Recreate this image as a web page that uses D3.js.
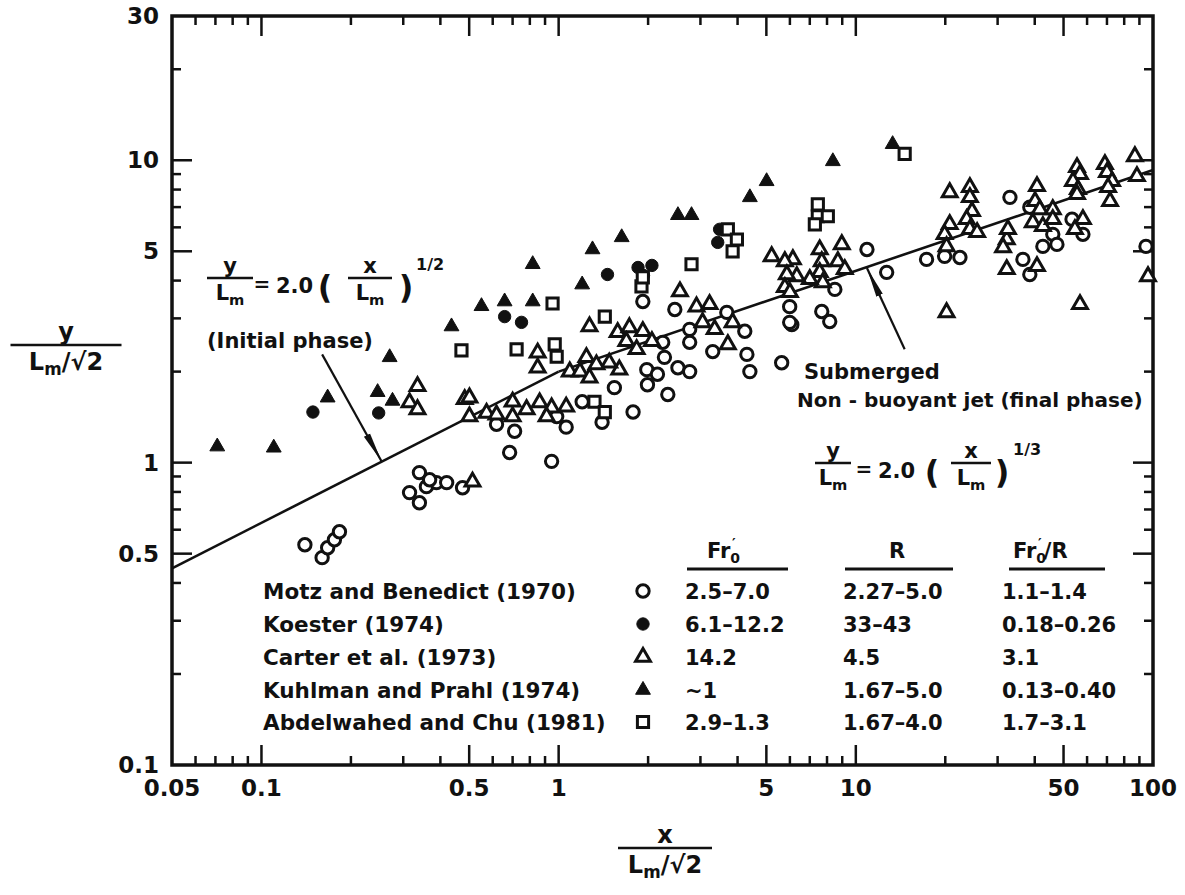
<!DOCTYPE html>
<html>
<head>
<meta charset="utf-8">
<script src="https://d3js.org/d3.v7.min.js"></script>
<style>
  body { margin: 0; background: #fff; }
  svg text { font-family: "DejaVu Sans", sans-serif; font-weight: bold; fill: #111; }
</style>
</head>
<body>
<svg id="chart" width="1185" height="895"></svg>
<script>
// ---- data (x/(Lm/sqrt2), y/(Lm/sqrt2)) ----
const motz = [
  [0.14,0.535],[0.16,0.485],[0.167,0.523],[0.176,0.556],[0.183,0.591],
  [0.315,0.796],[0.34,0.737],[0.359,0.833],[0.34,0.927],[0.388,0.859],[0.42,0.859],[0.475,0.826],[0.368,0.878],
  [1.92,3.41],[6.09,2.86],[5.63,2.14],[2.46,3.21],[2.76,2.76],[2.76,2.50],[3.68,3.14],[4.23,2.72],[3.30,2.33],
  [4.30,2.28],[4.40,2.00],[2.52,2.06],[2.76,2.00],[1.98,2.03],[2.15,1.96],[1.99,1.81],[2.33,1.68],[1.78,1.47],
  [2.24,2.50],[2.27,2.23],[1.54,1.77],[1.20,1.59],[1.40,1.36],[1.06,1.31],[0.711,1.27],[0.684,1.08],[0.947,1.01],
  [0.985,1.42],[0.618,1.34],
  [10.9,5.07],[12.7,4.26],[17.3,4.70],[19.9,4.81],[22.4,4.77],[33.0,7.54],[36.5,4.70],[38.5,4.19],[38.5,6.99],
  [46.0,5.69],[42.6,5.19],[47.5,5.27],[53.4,6.38],[58.1,5.69],[8.50,3.74],[7.68,3.16],[8.17,2.93],[94.7,5.19],
  [5.99,3.28],[5.99,2.91]
];
const koester = [
  [0.149,1.47],[0.248,1.46],[0.658,3.04],[0.75,2.91],[1.46,4.19],[1.85,4.42],[2.06,4.49],[1.93,4.16],[3.48,5.91],[3.43,5.35]
];
const carter = [
  [0.335,1.79],[0.315,1.58],[0.335,1.50],[0.483,1.62],[0.513,0.865],
  [5.21,4.81],[1.27,2.82],[2.56,3.68],[0.85,2.31],[0.85,2.06],[1.58,2.70],[1.73,2.80],[1.92,2.72],[1.69,2.52],
  [2.06,2.52],[1.83,2.37],[2.91,3.28],[3.22,3.34],[3.05,2.91],[3.35,2.76],[3.71,2.46],[3.85,2.91],[1.24,2.23],
  [1.60,2.03],[1.48,2.14],[1.34,2.11],[1.09,2.00],[1.18,2.00],[1.27,1.91],[0.70,1.59],[0.70,1.42],[0.863,1.58],
  [0.947,1.52],[1.06,1.53],[0.78,1.50],[0.911,1.42],[0.572,1.46],[0.618,1.44],[0.501,1.64],[0.501,1.42],
  [7.56,5.07],[7.68,4.63],[7.56,4.26],[8.97,5.27],[8.70,4.63],[9.18,4.36],[7.74,3.94],[7.00,4.04],[6.14,4.70],
  [6.33,4.13],[5.77,4.63],[5.86,4.19],[5.77,3.80],[6.0,3.66],
  [20.7,7.83],[24.2,8.14],[24.2,7.54],[24.6,6.78],[23.6,6.38],[24.2,5.91],[25.6,5.78],[20.7,6.14],[19.9,5.69],
  [20.2,5.19],[32.2,5.47],[32.5,5.91],[31.3,5.15],[32.2,4.36],[40.7,4.46],[40.7,8.2],[40.1,7.32],[41.6,6.88],
  [39.4,6.23],[42.6,6.05],[46.0,6.88],[46.0,6.38],[58.1,6.38],[54.6,5.91],[55.5,9.48],[56.8,8.99],[53.8,8.52],
  [55.9,8.02],[55.5,7.72],[68.9,9.70],[70.0,9.13],[72.8,8.52],[70.6,8.14],[71.7,7.32],[56.8,3.34],[20.2,3.14],
  [86.9,10.3],[88.3,8.85],[96.2,4.13]
];
const kuhlman = [
  [0.071,1.13],[0.11,1.12],[0.167,1.64],[0.27,2.23],[0.246,1.71],[0.276,1.60],[0.436,2.82],[0.55,3.29],
  [0.658,3.41],[0.818,3.41],[0.818,4.53],[1.20,3.88],[1.30,5.07],[1.63,5.56],[2.52,6.58],[2.80,6.58],
  [4.40,7.54],[5.01,8.52],[8.37,9.92],[13.3,11.3]
];
const abdelwahed = [
  [0.471,2.35],[0.954,3.36],[0.722,2.37],[0.97,2.46],[0.985,2.24],[1.43,3.04],[1.90,3.83],[1.92,4.10],
  [2.80,4.53],[3.71,5.91],[3.98,5.47],[3.85,5.00],[14.6,10.5],[7.45,7.15],[7.45,6.53],[8.05,6.53],[7.28,6.14],
  [1.32,1.59],[1.43,1.47]
];

// fitted curves shown in the figure
const initialPhase = [[0.05, 0.447], [1, 2.0]];   // y = 2.0 x^(1/2)
const finalPhase = [[1, 2.0], [100, 9.28]];       // y = 2.0 x^(1/3)
const arrowInitial = [[0.16, 2.28], [0.2535, 1.01]];
const arrowFinal = [[14.6, 2.37], [10.9, 4.4]];

// axes
const xTickVals = [0.05, 0.1, 0.5, 1, 5, 10, 50, 100];
const xTickText = ["0.05", "0.1", "0.5", "1", "5", "10", "50", "100"];
const yTickVals = [0.1, 0.5, 1, 5, 10, 30];
const yTickText = ["0.1", "0.5", "1", "5", "10", "30"];
const xMajor = [0.1, 0.5, 1, 5, 10, 50];
const yMajor = [0.5, 1, 5, 10];

// legend table
const legendNames = ["Motz and Benedict (1970)", "Koester (1974)", "Carter et al. (1973)",
                     "Kuhlman and Prahl (1974)", "Abdelwahed and Chu (1981)"];
const legendFr = ["2.5–7.0", "6.1–12.2", "14.2", "~1", "2.9–1.3"];
const legendR = ["2.27–5.0", "33–43", "4.5", "1.67–5.0", "1.67–4.0"];
const legendFrR = ["1.1–1.4", "0.18–0.26", "3.1", "0.13–0.40", "1.7–3.1"];

// ---- drawing ----
const svg = d3.select("#chart");
const x = d3.scaleLog().domain([0.05, 100]).range([172, 1153]);
const y = d3.scaleLog().domain([0.1, 30]).range([765, 16]);
const ink = "#111";

const symbols = {
  circle: d3.symbol(d3.symbolCircle, 120),
  triangle: d3.symbol(d3.symbolTriangle, 95),
  square: d3.symbol(d3.symbolSquare, 125)
};
const series = [
  { data: motz, shape: "circle", filled: false },
  { data: koester, shape: "circle", filled: true },
  { data: carter, shape: "triangle", filled: false },
  { data: kuhlman, shape: "triangle", filled: true },
  { data: abdelwahed, shape: "square", filled: false }
];

// ticks (inward on all four sides)
const tg = svg.append("g").attr("stroke", ink).attr("stroke-width", 2.5);
const [x0, x1] = x.range(), [y0, y1] = y.range();
x.ticks().filter(v => v > 0.05 && v < 100).forEach(v => {
  const len = xMajor.includes(v) ? 20 : 9;
  tg.append("line").attr("x1", x(v)).attr("x2", x(v)).attr("y1", y0).attr("y2", y0 - len);
  tg.append("line").attr("x1", x(v)).attr("x2", x(v)).attr("y1", y1).attr("y2", y1 + len);
});
y.ticks().filter(v => v > 0.1 && v < 30).forEach(v => {
  const len = yMajor.includes(v) ? 20 : 9;
  tg.append("line").attr("y1", y(v)).attr("y2", y(v)).attr("x1", x0).attr("x2", x0 + len);
  tg.append("line").attr("y1", y(v)).attr("y2", y(v)).attr("x1", x1).attr("x2", x1 - len);
});

// frame
svg.append("rect")
  .attr("x", x0).attr("y", y1).attr("width", x1 - x0).attr("height", y0 - y1)
  .attr("fill", "none").attr("stroke", ink).attr("stroke-width", 3.5);

// tick labels
svg.append("g").selectAll("text").data(xTickVals).join("text")
  .attr("x", d => x(d)).attr("y", 796).attr("text-anchor", "middle")
  .attr("font-size", 23).text((d, i) => xTickText[i]);
svg.append("g").selectAll("text").data(yTickVals).join("text")
  .attr("x", 159).attr("y", d => y(d) + 8).attr("text-anchor", "end")
  .attr("font-size", 23).text((d, i) => yTickText[i]);

// fitted lines
const line = d3.line().x(d => x(d[0])).y(d => y(d[1]));
svg.append("path").datum(initialPhase).attr("d", line)
  .attr("fill", "none").attr("stroke", ink).attr("stroke-width", 2.6);
svg.append("path").datum(finalPhase).attr("d", line)
  .attr("fill", "none").attr("stroke", ink).attr("stroke-width", 2.6);

// arrows
svg.append("defs").append("marker")
  .attr("id", "head").attr("markerUnits", "userSpaceOnUse")
  .attr("viewBox", "0 -5 30 10").attr("refX", 30).attr("refY", 0)
  .attr("markerWidth", 30).attr("markerHeight", 10).attr("orient", "auto")
  .append("path").attr("d", "M0,-3.5L30,0L0,3.5Z").attr("fill", ink);
[arrowInitial, arrowFinal].forEach(a => {
  svg.append("path").datum(a).attr("d", line)
    .attr("stroke", ink).attr("stroke-width", 2.2).attr("marker-end", "url(#head)");
});

// data markers
series.forEach(s => {
  svg.append("g").selectAll("path").data(s.data).join("path")
    .attr("transform", d => `translate(${x(d[0])},${y(d[1])})`)
    .attr("d", symbols[s.shape])
    .attr("fill", s.filled ? ink : "#fff")
    .attr("stroke", ink).attr("stroke-width", s.filled ? 1 : 3);
});

// fraction helper: numerator, bar, denominator "L_m" + optional suffix
function frac(cx, barY, w, num, suffix, fs) {
  const g = svg.append("g");
  g.append("text").attr("x", cx).attr("y", barY - 5).attr("text-anchor", "middle")
    .attr("font-size", fs).text(num);
  g.append("line").attr("x1", cx - w / 2).attr("x2", cx + w / 2).attr("y1", barY).attr("y2", barY)
    .attr("stroke", ink).attr("stroke-width", 2.5);
  const den = g.append("text").attr("x", cx).attr("y", barY + fs + 1).attr("text-anchor", "middle")
    .attr("font-size", fs);
  den.append("tspan").text("L");
  den.append("tspan").attr("font-size", fs * 0.7).attr("dy", 5).text("m");
  if (suffix) den.append("tspan").attr("dy", -5).text(suffix);
}

// equation: "y/Lm = 2.0 (x/Lm)^p"
function equation(cx1, barY, w1, eqX, numX, parL, cx2, w2, parR, expX, expText) {
  frac(cx1, barY, w1, "y", "", 21);
  svg.append("text").attr("x", eqX).attr("y", barY + 13).attr("text-anchor", "middle")
    .attr("font-size", 20).text("=");
  svg.append("text").attr("x", numX).attr("y", barY + 15).attr("font-size", 21).text("2.0");
  svg.append("text").attr("x", parL).attr("y", barY + 20).attr("text-anchor", "middle")
    .attr("font-size", 32).attr("font-weight", "normal").text("(");
  frac(cx2, barY, w2, "x", "", 21);
  svg.append("text").attr("x", parR).attr("y", barY + 20).attr("text-anchor", "middle")
    .attr("font-size", 32).attr("font-weight", "normal").text(")");
  svg.append("text").attr("x", expX).attr("y", barY - 8).attr("font-size", 16).text(expText);
}
equation(230, 278, 46, 262, 276, 325, 370, 44, 406, 416, "1/2");
svg.append("text").attr("x", 207).attr("y", 348).attr("font-size", 21).text("(Initial phase)");

svg.append("text").attr("x", 804).attr("y", 379).attr("font-size", 21).text("Submerged");
svg.append("text").attr("x", 797).attr("y", 407).attr("font-size", 20).text("Non - buoyant jet (final phase)");
equation(833, 463, 36, 864, 878, 932, 971, 40, 1002, 1013, "1/3");

// axis titles
frac(66, 345, 111, "y", "/√2", 24);
frac(665, 848, 94, "x", "/√2", 24);

// legend
const rowY = [591, 624, 657, 690, 722];
const lg = svg.append("g");
lg.selectAll("text.name").data(legendNames).join("text").attr("class", "name")
  .attr("x", 263).attr("y", (d, i) => rowY[i] + 8).attr("font-size", 21.5).text(d => d);
series.forEach((s, i) => {
  lg.append("path").attr("transform", `translate(643,${rowY[i]})`)
    .attr("d", symbols[s.shape]).attr("fill", s.filled ? ink : "#fff")
    .attr("stroke", ink).attr("stroke-width", s.filled ? 1 : 3);
});
[[legendFr, 685], [legendR, 843], [legendFrR, 1002]].forEach(([col, cx]) => {
  lg.append("g").selectAll("text").data(col).join("text")
    .attr("x", cx).attr("y", (d, i) => rowY[i] + 8).attr("font-size", 21).text(d => d);
});
// column headers with underlines
function frHead(xp, yp, tail) {
  const t = lg.append("text").attr("x", xp).attr("y", yp).attr("font-size", 21);
  t.append("tspan").text("Fr");
  t.append("tspan").attr("font-size", 14).attr("dy", 5).text("0");
  t.append("tspan").attr("font-size", 14).attr("dx", -8).attr("dy", -15).text("′");
  if (tail) t.append("tspan").attr("dy", 10).attr("dx", 2).text(tail);
}
frHead(707, 558, "");
lg.append("text").attr("x", 897).attr("y", 558).attr("text-anchor", "middle").attr("font-size", 21).text("R");
frHead(1013, 558, "/R");
[[687, 788], [845, 953], [1009, 1105]].forEach(([a, b]) => {
  lg.append("line").attr("x1", a).attr("x2", b).attr("y1", 569).attr("y2", 569)
    .attr("stroke", ink).attr("stroke-width", 3);
});
</script>
</body>
</html>
